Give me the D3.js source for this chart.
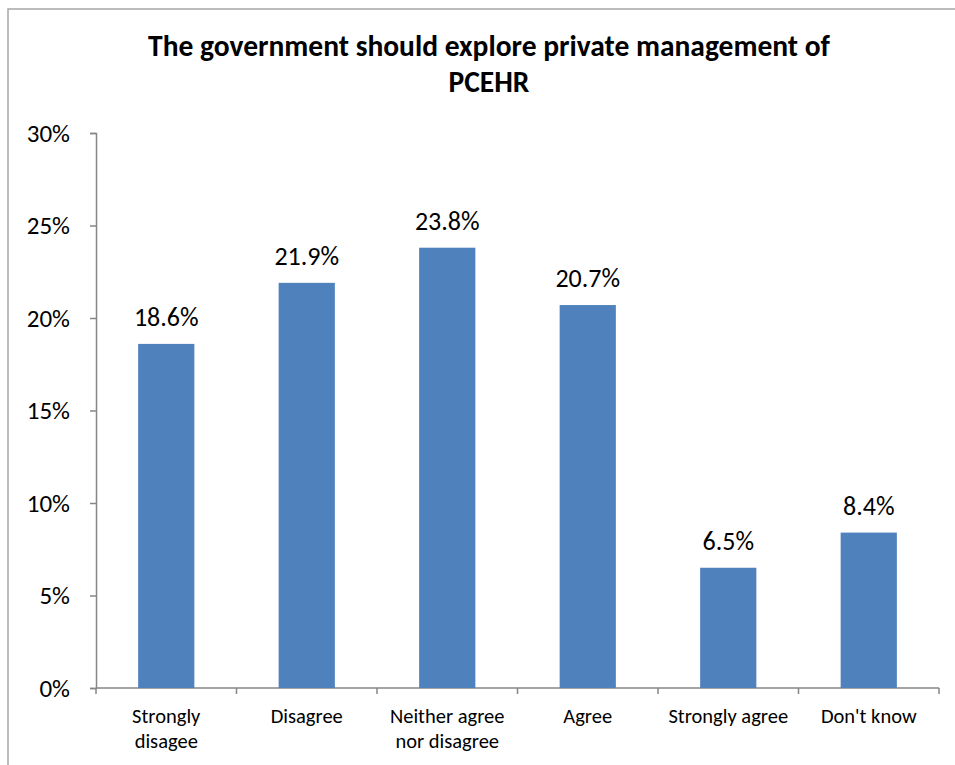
<!DOCTYPE html>
<html>
<head>
<meta charset="utf-8">
<script src="https://cdn.jsdelivr.net/npm/d3@7"></script>
<style>
  body { margin: 0; background: #fff; }
  text { font-family: Carlito, Calibri, Lato, sans-serif; fill: #000; }
</style>
</head>
<body>
<script>
let categories = ['Strongly|disagee', 'Disagree', 'Neither agree|nor disagree', 'Agree', 'Strongly agree', "Don't know"];
let values = [18.6, 21.9, 23.8, 20.7, 6.5, 8.4];
let yTicks = [0, 5, 10, 15, 20, 25, 30];
let titleLines = ['The government should explore private management of', 'PCEHR'];

let svg = d3.select('body')
  .append('svg')
  .attr('width', 955)
  .attr('height', 765);

let plotLeft = 96, plotRight = 939, plotTop = 133, plotBottom = 688;

// chart frame
svg.append('path')
  .attr('d', 'M8,770 L8,9 L960,9')
  .attr('fill', 'none')
  .attr('stroke', '#a6a6a6')
  .attr('stroke-width', 1.5);

let x = d3.scaleBand()
  .domain(categories)
  .range([plotLeft, plotRight])
  .paddingInner(0.6)
  .paddingOuter(0.3);

let y = d3.scaleLinear()
  .domain([0, 30])
  .range([plotBottom, plotTop]);

// title
svg.selectAll('.title').data(titleLines)
  .enter().append('text')
  .attr('class', 'title')
  .attr('x', 489)
  .attr('y', (d, i) => 56 + i * 36)
  .attr('text-anchor', 'middle')
  .style('font-weight', 'bold')
  .style('font-size', '29.5px')
  .text(d => d);

// y axis
let yAxis = svg.append('g')
  .attr('transform', `translate(${plotLeft},0)`)
  .call(d3.axisLeft(y).tickValues(yTicks).tickSize(6).tickPadding(20).tickFormat(d => d + '%'));
yAxis.selectAll('line, path').attr('stroke', '#868686').attr('stroke-width', 1.5);
yAxis.selectAll('text').style('font-size', '25px').style('font-family', 'Carlito, Calibri, Lato, sans-serif').attr('fill', '#000');

// x axis line and boundary ticks
svg.append('line')
  .attr('x1', plotLeft).attr('x2', plotRight)
  .attr('y1', plotBottom).attr('y2', plotBottom)
  .attr('stroke', '#868686').attr('stroke-width', 1.5);

svg.selectAll('.xtick').data(d3.range(categories.length + 1))
  .enter().append('line')
  .attr('class', 'xtick')
  .attr('x1', i => plotLeft + i * x.step())
  .attr('x2', i => plotLeft + i * x.step())
  .attr('y1', plotBottom).attr('y2', plotBottom + 6)
  .attr('stroke', '#868686').attr('stroke-width', 1.5);

// bars
svg.selectAll('.bar').data(values)
  .enter().append('rect')
  .attr('class', 'bar')
  .attr('x', (d, i) => x(categories[i]))
  .attr('y', d => y(d))
  .attr('width', x.bandwidth())
  .attr('height', d => y(0) - y(d))
  .attr('fill', '#4f81bd');

// data labels
svg.selectAll('.val').data(values)
  .enter().append('text')
  .attr('class', 'val')
  .attr('x', (d, i) => x(categories[i]) + x.bandwidth() / 2)
  .attr('y', d => y(d) - 18)
  .attr('text-anchor', 'middle')
  .style('font-size', '26px')
  .text(d => d.toFixed(1) + '%');

// category labels
let cats = svg.selectAll('.cat').data(categories)
  .enter().append('text')
  .attr('class', 'cat')
  .attr('text-anchor', 'middle')
  .style('font-size', '20.5px');
cats.selectAll('tspan').data(d => d.split('|').map(s => ({ s: s, c: d })))
  .enter().append('tspan')
  .attr('x', d => x(d.c) + x.bandwidth() / 2)
  .attr('y', (d, i) => 723 + i * 25)
  .text(d => d.s);
</script>
</body>
</html>
